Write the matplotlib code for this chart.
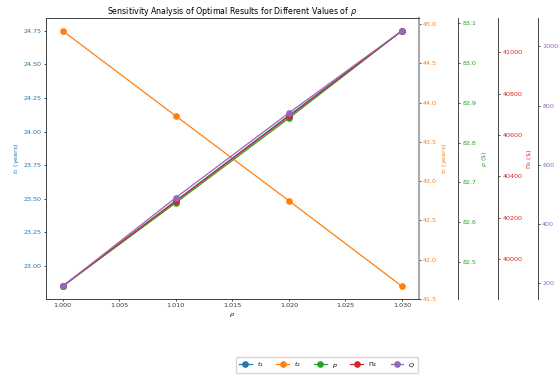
import matplotlib

matplotlib.use("Agg")
import matplotlib.pyplot as plt  # noqa: E402

rho = [1.00, 1.01, 1.02, 1.03]
t1 = [22.85, 23.485, 24.12, 24.75]
t2 = [44.915, 43.83, 42.75, 41.66]
p = [82.44, 82.649, 82.861, 83.08]
pi4 = [39867, 40279, 40690, 41105]
q = [188.5, 488, 775, 1053]

C1, C2, C3, C4, C5 = "#1f77b4", "#ff7f0e", "#2ca02c", "#d62728", "#9467bd"
FS = 4.6
LW = 0.9
MS = 3.8

fig = plt.figure(figsize=(5.6, 3.76), dpi=100)
ax1 = fig.add_axes([0.0816, 0.2048, 0.6664, 0.7472])
ax2 = ax1.twinx()
ax3 = ax1.twinx()
ax4 = ax1.twinx()
ax5 = ax1.twinx()
ax3.spines["right"].set_position(("axes", 1.106))
ax4.spines["right"].set_position(("axes", 1.212))
ax5.spines["right"].set_position(("axes", 1.319))

l1, = ax1.plot(rho, t1, "o-", color=C1, lw=LW, ms=MS, label="$t_1$")
l2, = ax2.plot(rho, t2, "o-", color=C2, lw=LW, ms=MS, label="$t_2$")
l3, = ax3.plot(rho, p, "o-", color=C3, lw=LW, ms=MS, label="$p$")
l4, = ax4.plot(rho, pi4, "o-", color=C4, lw=LW, ms=MS, label=r"$\Pi_4$")
l5, = ax5.plot(rho, q, "o-", color=C5, lw=LW, ms=MS, label="$Q$")

ax1.set_xticks([1.000, 1.005, 1.010, 1.015, 1.020, 1.025, 1.030])
ax1.set_xticklabels(["1.000", "1.005", "1.010", "1.015", "1.020", "1.025", "1.030"])
ax1.set_yticks([23.00, 23.25, 23.50, 23.75, 24.00, 24.25, 24.50, 24.75])
ax2.set_yticks([41.5, 42.0, 42.5, 43.0, 43.5, 44.0, 44.5, 45.0])
ax3.set_yticks([82.5, 82.6, 82.7, 82.8, 82.9, 83.0, 83.1])
ax4.set_yticks([40000, 40200, 40400, 40600, 40800, 41000])
ax5.set_yticks([200, 400, 600, 800, 1000])

for ax, c in ((ax1, C1), (ax2, C2), (ax3, C3), (ax4, C4), (ax5, C5)):
    ax.tick_params(axis="y", labelcolor=c, labelsize=FS, length=1.6, width=0.5, pad=1.5)
    for s in ax.spines.values():
        s.set_linewidth(0.7)
        s.set_color("#444444")
ax1.tick_params(axis="x", labelsize=FS, length=1.6, width=0.5, pad=1.5, labelcolor="#333333")
ax2.spines["right"].set_color("#aaaaaa")
ax2.spines["right"].set_linewidth(1.5)

ax1.set_xlabel(r"$\rho$", fontsize=FS, labelpad=2)
ax1.set_ylabel("$t_1$ (years)", fontsize=FS, color=C1, labelpad=2)
ax2.set_ylabel("$t_2$ (years)", fontsize=FS, color=C2, labelpad=2)
ax3.set_ylabel(r"$p$ (\$)", fontsize=FS, color=C3, labelpad=2)
ax4.set_ylabel(r"$\Pi_4$ (\$)", fontsize=FS, color=C4, labelpad=2)

ax1.set_title(r"Sensitivity Analysis of Optimal Results for Different Values of $\rho$",
              fontsize=5.7, pad=3)

fig.legend(handles=[l1, l2, l3, l4, l5], loc="center", bbox_to_anchor=(0.584, 0.029),
           ncol=5, fontsize=FS, frameon=True, framealpha=0.8, columnspacing=2.0,
           handlelength=2.0, borderpad=0.5)

fig.savefig("out.png", dpi=100)
